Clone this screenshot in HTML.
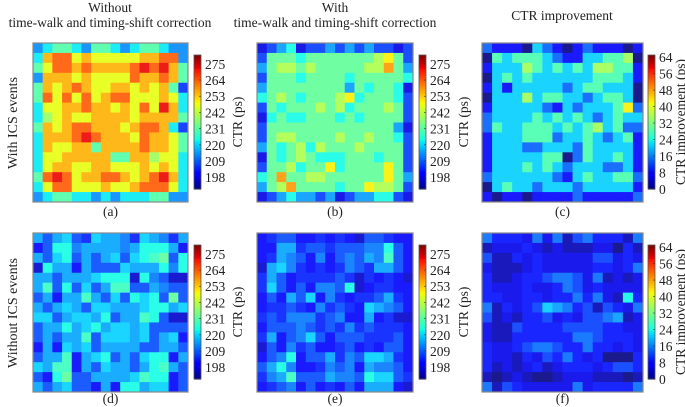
<!DOCTYPE html>
<html><head><meta charset="utf-8"><style>
html,body{margin:0;padding:0;background:#fff;}
svg{display:block;font-family:"Liberation Serif",serif;}
</style></head><body>
<svg id="fig" width="685" height="407" viewBox="0 0 685 407" xmlns="http://www.w3.org/2000/svg">
<g font-size="13.5" text-anchor="middle" fill="#222">
<text x="110" y="12">Without</text>
<text x="110" y="27">time-walk and timing-shift correction</text>
<text x="335" y="12">With</text>
<text x="335" y="27">time-walk and timing-shift correction</text>
<text x="562" y="20">CTR improvement</text>
</g>
<text font-size="14" text-anchor="middle" fill="#222" transform="translate(17,123) rotate(-90)">With ICS events</text>
<text font-size="14" text-anchor="middle" fill="#222" transform="translate(17,313) rotate(-90)">Without ICS events</text>
</svg>
<script>
// Cell levels (digit per cell, 16x16), row 0 = top
const panelA = ["2344324432344322","3788676666677882","4688787777898974","2777676666877874","4767876677676741","4868686788666763","3667787767686973","3567667777677774","4767887776788731","3777898777687764","3766774777787764","3667777744775663","3677667766676763","4898677887678973","3688666766788863","2344332323334422"];
const panelB = ["0123011212121101","1444344444445641","2455454444455742","1444344443444443","2444444442434430","3454344456344431","1434445453444541","0343344434344441","1444444444444420","1455444454454431","2434535444544441","0434543334443441","1445344634444641","3474455444444642","2457444434465541","0123221201223310"];
const panelC = ["2111032101211101","0434443211334450","1333543434355441","0343433333344431","1313333323443330","0333534433234430","1333332132333462","2333343434323433","2433444343453422","1333444233432341","1333223332433331","1333334402433431","1333434323332231","2333333213433442","0343323332333331","1011011112111112"];
const panelD = ["5356326554265425","1377455554577751","5367353563678937","0755153336555747","5535556777074300","5837363588335433","3515585363767393","5356536655567756","6635665735587300","3557567566563333","3535583666563561","1516563555533553","3558156735367715","6588153655357853","3179335555687713","5356331517756613"];
const panelE = ["1233112121033211","1155233233344731","1254314134354831","0564212124325531","2531222232021210","2631314437012211","1315361421223521","1223214232165431","2324442341151200","1333432324232221","2513463133322231","0314231123121331","1347133524366521","3574112434154431","2458333544376632","1234131213155510"];
const panelF = ["5333252514533315","1222321211122031","4113232222244232","2111232222233235","3112334554251212","3222322354232222","3322332335352183","5132347653414325","4121334232445612","2114333344443322","2113333335543332","3223455433533232","3221324353230003","3121231233323443","1012100122211101","5143222225233335"];
const ctrTicks = [198,209,220,231,242,253,264,275];
const impTicks = [0,8,16,24,32,40,48,56,64];
const subLabels = ["(a)","(b)","(c)","(d)","(e)","(f)"];

const NS="http://www.w3.org/2000/svg";
const svg=document.getElementById('fig');
function el(t,a,p){const e=document.createElementNS(NS,t);for(const k in a)e.setAttribute(k,a[k]);(p||svg).appendChild(e);return e;}
function seg(pts,t){for(let i=1;i<pts.length;i++){if(t<=pts[i][0]){const[a,va]=pts[i-1],[b,vb]=pts[i];return va+(vb-va)*(t-a)/(b-a);}}return pts[pts.length-1][1];}
const JR=[[0,0],[0.35,0],[0.66,1],[0.89,1],[1,0.5]];
const JG=[[0,0],[0.125,0],[0.375,1],[0.64,1],[0.91,0],[1,0]];
const JB=[[0,0.5],[0.11,1],[0.34,1],[0.65,0],[1,0]];
function jet(t,soft){t=Math.max(0,Math.min(1,t));const w=soft?0.1:0;const c=v=>Math.round(255*(v*(1-w)+w));
return `rgb(${c(seg(JR,t))},${c(seg(JG,t))},${c(seg(JB,t))})`;}
const ctrScale={vmin:190,vmax:281};
const impScale={vmin:0,vmax:65};
const panels=[
 {d:panelA,val:d=>197+d*8.4,s:ctrScale,x:33,y:43,w:155,cbx:194,ticks:ctrTicks,lab:"CTR (ps)",lx:242,name:"a"},
 {d:panelB,val:d=>198+d*8.6,s:ctrScale,x:257,y:43,w:156,cbx:419,ticks:ctrTicks,lab:"CTR (ps)",lx:468,name:"b"},
 {d:panelC,val:d=>d*7.1,s:impScale,x:482,y:43,w:161,cbx:648,ticks:impTicks,lab:"CTR improvement (ps)",lx:685,name:"c"},
 {d:panelD,val:d=>196+d*4,s:ctrScale,x:33,y:233,w:155,cbx:194,ticks:ctrTicks,lab:"CTR (ps)",lx:242,name:"d"},
 {d:panelE,val:d=>196+d*4,s:ctrScale,x:257,y:233,w:156,cbx:419,ticks:ctrTicks,lab:"CTR (ps)",lx:468,name:"e"},
 {d:panelF,val:d=>d*3,s:impScale,x:482,y:233,w:161,cbx:648,ticks:impTicks,lab:"CTR improvement (ps)",lx:685,name:"f"}
];
panels.forEach((p,pi)=>{
 const H=159,n=16,cw=p.w/n,ch=H/n;
 const g=el('g',{});
 
 
 p.d.forEach((row,i)=>{for(let j=0;j<n;j++){
  const v=p.val(+row[j]);
  const r=el('rect',{x:p.x+j*cw,y:p.y+i*ch,width:cw+0.5,height:ch+0.5,fill:jet((v-p.s.vmin)/(p.s.vmax-p.s.vmin),true)},g);
  
  
 }});
 const fr=el('rect',{x:p.x,y:p.y,width:p.w,height:H,fill:'none',stroke:'#888','stroke-width':1.2});
 
 
 const cbTop=p.y+12,cbBot=p.y+146,cbW=7;
 const cg=el('g',{});
 
 
 const steps=60;
 for(let k=0;k<steps;k++){
  el('rect',{x:p.cbx,y:cbBot-(k+1)*(cbBot-cbTop)/steps,width:cbW,height:(cbBot-cbTop)/steps+0.6,fill:jet((k+0.5)/steps,false)},cg);
 }
 el('rect',{x:p.cbx,y:cbTop,width:cbW,height:cbBot-cbTop,fill:'none',stroke:'#555','stroke-width':0.8},cg);
 const vy=v=>cbBot-(v-p.s.vmin)/(p.s.vmax-p.s.vmin)*(cbBot-cbTop);
 p.ticks.forEach(v=>{
  const y=vy(v);
  el('line',{x1:p.cbx+cbW-2,x2:p.cbx+cbW,y1:y,y2:y,stroke:'#333','stroke-width':0.6},cg);
  const t=el('text',{x:p.cbx+cbW+4,y:y+5,'font-size':13.5,fill:'#222'},cg);
  t.textContent=v;
  
  
 });
 const lt=el('text',{'font-size':13.5,'text-anchor':'middle',fill:'#222',transform:`translate(${p.lx},${(cbTop+cbBot)/2}) rotate(-90)`});
 lt.textContent=p.lab;
 
 
 const sl=el('text',{x:p.x+p.w/2,y:p.y+H+(pi<3?14:11),'font-size':13.5,'text-anchor':'middle',fill:'#222'});
 sl.textContent=subLabels[pi];
 
 
});
</script>
</body></html>
